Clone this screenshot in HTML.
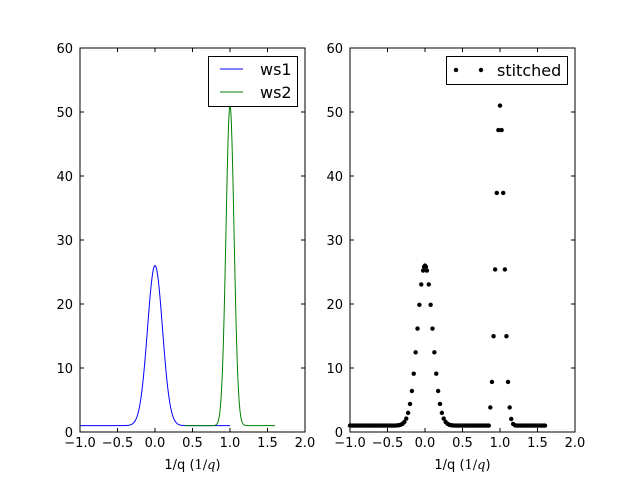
<!DOCTYPE html>
<html><head><meta charset="utf-8"><style>
html,body{margin:0;padding:0;background:#fff;}
svg{display:block;font-family:"DejaVu Sans","Liberation Sans",sans-serif;}
</style></head><body>
<svg id="s" width="640" height="480" xmlns="http://www.w3.org/2000/svg">
<rect width="640" height="480" fill="#fff"/>
<g id="g"></g>
</svg>
<script>
var g=document.getElementById('g'),out='';
function X(x,o){return o+75*(x+1);}
function Y(v){return 432-6.4*v;}
function g1(x){return 1+25*Math.exp(-x*x/(2*0.01));}
function g2(x){var d=x-1;return 1+50*Math.exp(-d*d/(2*0.0029));}
var p='';for(var x=-1;x<=1.0001;x+=0.005){p+=(p?'L':'M')+X(x,80).toFixed(2)+','+Y(g1(x)).toFixed(2);}
out+='<path d="'+p+'" fill="none" stroke="#0000ff" stroke-width="1"/>';
p='';for(var x=0.4;x<=1.6001;x+=0.002){p+=(p?'L':'M')+X(x,80).toFixed(2)+','+Y(g2(x)).toFixed(2);}
out+='<path d="'+p+'" fill="none" stroke="#008000" stroke-width="1"/>';
var pts=[];
for(var k=-40;k<=34;k++){var x=k*0.025;pts.push([x,g1(x)]);}
pts.push([0.012,g1(0.012)],[-0.012,g1(-0.012)]);
for(var k=-6;k<=6;k++){var x=1+k*0.0215;pts.push([x,g2(x)]);}
for(var x=1.15;x<=1.601;x+=0.025){pts.push([x,g2(x)]);}
for(var i=0;i<pts.length;i++){out+='<circle cx="'+X(pts[i][0],350).toFixed(2)+'" cy="'+Y(pts[i][1]).toFixed(2)+'" r="2.2" fill="#000"/>';}
function axes(o){
 var s='<rect x="'+o+'" y="48" width="225" height="384" fill="none" stroke="#000" stroke-width="1"/>';
 var xl=['\u22121.0','\u22120.5','0.0','0.5','1.0','1.5','2.0'];
 for(var i=0;i<7;i++){var x=o+37.5*i;
  s+='<line x1="'+x+'" y1="432" x2="'+x+'" y2="428" stroke="#000"/><line x1="'+x+'" y1="48" x2="'+x+'" y2="52" stroke="#000"/>';
  s+='<text x="'+x+'" y="447" font-size="13" text-anchor="middle">'+xl[i]+'</text>';}
 for(var v=0;v<=60;v+=10){var y=Y(v);
  s+='<line x1="'+o+'" y1="'+y+'" x2="'+(o+4)+'" y2="'+y+'" stroke="#000"/><line x1="'+(o+225)+'" y1="'+y+'" x2="'+(o+221)+'" y2="'+y+'" stroke="#000"/>';
  s+='<text x="'+(o-7)+'" y="'+(y+5)+'" font-size="13" text-anchor="end">'+v+'</text>';}
 s+='<text x="'+(o+112.5)+'" y="469" font-size="13" text-anchor="middle">1/q (<tspan font-family="DejaVu Serif,Liberation Serif,serif">1/</tspan><tspan font-family="DejaVu Serif,Liberation Serif,serif" font-style="italic">q</tspan>)</text>';
 return s;}
out+=axes(80)+axes(350);
out+='<rect x="208.5" y="56.5" width="89" height="50" fill="#fff" stroke="#000"/>';
out+='<line x1="220" y1="69" x2="243" y2="69" stroke="#0000ff"/><text x="260" y="75" font-size="16">ws1</text>';
out+='<line x1="220" y1="92" x2="243" y2="92" stroke="#008000"/><text x="260" y="98" font-size="16">ws2</text>';
out+='<rect x="446.5" y="56.5" width="121" height="28" fill="#fff" stroke="#000"/>';
out+='<circle cx="456" cy="70" r="2.2" fill="#000"/><circle cx="481" cy="70" r="2.2" fill="#000"/><text x="497" y="76" font-size="16">stitched</text>';
g.innerHTML=out;
</script>
</body></html>
